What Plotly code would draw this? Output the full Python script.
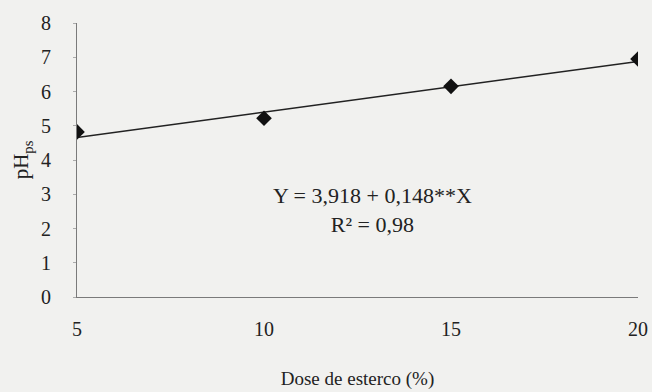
import plotly.graph_objects as go

# Observed pH values per manure dose
dose = [5, 10, 15, 20]
ph = [4.82, 5.22, 6.15, 6.95]

# Fitted linear model: Y = 3.918 + 0.148 X
intercept = 3.918
slope = 0.148
fit_x = [5, 20]
fit_y = [intercept + slope * x for x in fit_x]

x_ticks = [5, 10, 15, 20]
y_ticks = [0, 1, 2, 3, 4, 5, 6, 7, 8]

serif = "Liberation Serif"

fig = go.Figure()
fig.add_trace(go.Scatter(
    x=fit_x, y=fit_y, mode="lines",
    line=dict(color="#222222", width=1.5), showlegend=False,
))
fig.add_trace(go.Scatter(
    x=dose, y=ph, mode="markers",
    marker=dict(symbol="diamond", size=12, color="#111111"),
    showlegend=False,
))

fig.add_annotation(
    x=12.9, y=2.55, xref="x", yref="y",
    text="Y = 3,918 + 0,148**X<br>R² = 0,98",
    showarrow=False, align="center",
    font=dict(family=serif, size=22, color="#222222"),
)

fig.update_layout(
    width=652, height=392,
    margin=dict(l=77, r=14, t=23, b=95),
    paper_bgcolor="#f1f1ef", plot_bgcolor="#f1f1ef",
    font=dict(family=serif, size=20, color="#222222"),
    xaxis=dict(
        range=[5, 20], tickvals=x_ticks, showgrid=False, zeroline=False,
        showline=True, linecolor="#7a7a7a", linewidth=1,
        ticks="", ticklabelstandoff=14, automargin=False,
        title=dict(text="Dose de esterco (%)", font=dict(size=19), standoff=32),
    ),
    yaxis=dict(
        range=[0, 8], tickvals=y_ticks, showgrid=False, zeroline=False,
        showline=True, linecolor="#7a7a7a", linewidth=1,
        ticks="outside", ticklen=3, tickcolor="#aaaaaa", ticklabelstandoff=18,
        automargin=False,
        title=dict(text="pH<sub>ps</sub>", font=dict(size=21), standoff=6),
    ),
)

fig.write_html("out.html")
